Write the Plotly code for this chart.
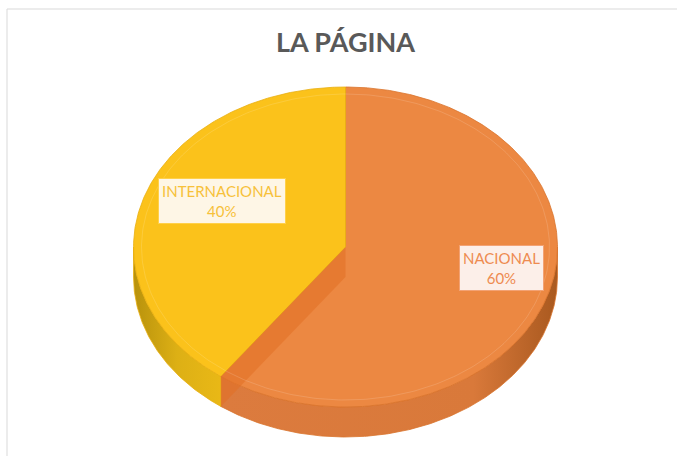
import numpy as np
import plotly.graph_objects as go

# ---- data ----
labels = ["NACIONAL", "INTERNACIONAL"]
values = [60, 40]
title_text = "LA PÁGINA"

# ---- styles ----
top_colors = ["#EC8842", "#FBC21B"]
line_colors = ["#D9732C", "#E8AE10"]
side_scales = [
    [[0, "#DC7B3E"], [0.75, "#D9793A"], [1, "#A9591F"]],
    [[0, "#B8920C"], [0.5, "#DDB015"], [1, "#E9B816"]],
]
text_colors = ["#EE8B50", "#F7C13A"]
box_bg = ["#FCEFE9", "#FEF6E6"]
box_border = ["#F3A274", "#FFD04A"]
label_pos = [(501, 268), (222, 201)]

W, H = 677, 456
CX, CY = 345.5, 247
RX, RY = 212, 160
DEPTH = 30


def pt(theta_deg, dy=0.0):
    t = np.radians(theta_deg)
    return CX + RX * np.sin(t), CY - RY * np.cos(t) + dy


def arc(t1, t2, dy=0.0, n=None):
    if n is None:
        n = max(4, int(abs(t2 - t1) * 2))
    ts = np.linspace(t1, t2, n)
    xs, ys = pt(ts, dy)
    return list(xs), list(ys)


fig = go.Figure()

total = sum(values)
bounds = []
start = 0.0
for v in values:
    end = start + 360.0 * v / total
    bounds.append((start, end))
    start = end

# side walls (front half: 90..270 degrees)
for i, (t1, t2) in enumerate(bounds):
    a, b = max(t1, 90), min(t2, 270)
    if a >= b:
        continue
    xs_t, ys_t = arc(a, b)
    xs_b, ys_b = arc(b, a, DEPTH)
    fig.add_trace(go.Scatter(
        x=xs_t + xs_b + [xs_t[0]], y=ys_t + ys_b + [ys_t[0]],
        mode="lines", fill="toself",
        fillgradient=dict(type="horizontal", colorscale=side_scales[i]),
        line=dict(width=0.8, color=line_colors[i]),
        hoverinfo="skip", showlegend=False))

# top faces
for i, (t1, t2) in enumerate(bounds):
    xs, ys = arc(t1, t2)
    fig.add_trace(go.Scatter(
        x=[CX] + xs + [CX], y=[CY] + ys + [CY],
        mode="lines", fill="toself", fillcolor=top_colors[i],
        line=dict(width=0.8, color=line_colors[i]),
        hoverinfo="skip", showlegend=False))

# visible cut face at the second boundary
tb = bounds[0][1]
ex, ey = pt(tb)
fig.add_trace(go.Scatter(
    x=[CX, ex, ex, CX, CX], y=[CY, ey, ey + DEPTH, CY + DEPTH, CY],
    mode="lines", fill="toself", fillcolor="rgba(226,112,36,0.55)",
    line=dict(width=0), hoverinfo="skip", showlegend=False))

# subtle bevel ring
bx, by = [], []
ts = np.linspace(0, 360, 361)
bx = list(CX + (RX - 8) * np.sin(np.radians(ts)))
by = list(CY - (RY - 7) * np.cos(np.radians(ts)))
fig.add_trace(go.Scatter(x=bx, y=by, mode="lines",
                         line=dict(width=0.8, color="rgba(255,255,255,0.18)"),
                         hoverinfo="skip", showlegend=False))

# labels
for i, lab in enumerate(labels):
    pct = round(100 * values[i] / total)
    fig.add_annotation(
        x=label_pos[i][0], y=label_pos[i][1], xref="x", yref="y",
        text=f"{lab}<br>{pct}%", showarrow=False,
        font=dict(family="Lato, Carlito, sans-serif", size=15, color=text_colors[i]),
        bgcolor=box_bg[i], bordercolor=box_border[i], borderwidth=1, borderpad=3,
        align="center")

fig.add_shape(type="rect", xref="x", yref="y", x0=7, y0=9, x1=700, y1=480,
              line=dict(color="#D9D9D9", width=1), layer="below")

fig.update_layout(
    width=W, height=H, autosize=False,
    margin=dict(l=0, r=0, t=0, b=0),
    paper_bgcolor="white", plot_bgcolor="white",
    title=dict(text=f"<b>{title_text}</b>", x=(CX) / W, xanchor="center",
               y=1 - 43 / H, yanchor="middle",
               font=dict(family="Lato, Carlito, sans-serif", size=27, color="#595959")),
    xaxis=dict(range=[0, W], visible=False, fixedrange=True),
    yaxis=dict(range=[H, 0], visible=False, fixedrange=True),
    showlegend=False,
)

fig.write_html("out.html")
